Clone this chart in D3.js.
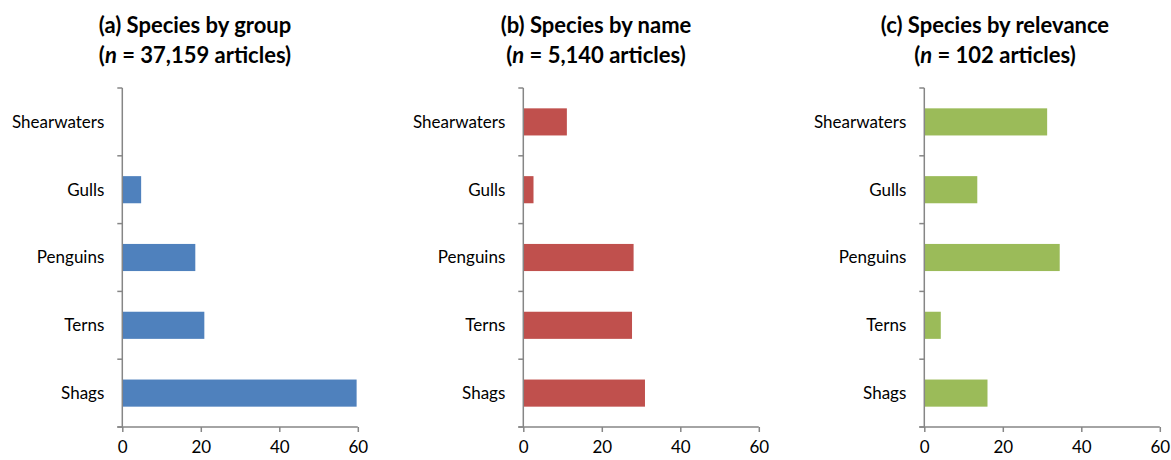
<!DOCTYPE html>
<html>
<head>
<meta charset="utf-8">
<script src="https://cdn.jsdelivr.net/npm/d3@7"></script>
<style>
  body { margin: 0; background: #fff; }
  text { font-family: Lato, "Open Sans", sans-serif; fill: #000; }
</style>
</head>
<body>
<svg id="chart" width="1171" height="460"></svg>
<script>
// categories top to bottom
var categories = ["Shearwaters", "Gulls", "Penguins", "Terns", "Shags"];

// percent of articles per panel
var groupValues = [0, 4.8, 18.6, 20.9, 59.7];
var nameValues = [11.1, 2.6, 28.1, 27.7, 31.0];
var relevanceValues = [31.3, 13.5, 34.5, 4.2, 16.1];

var xTicks = [0, 20, 40, 60];
var titles = ["(a) Species by group", "(b) Species by name", "(c) Species by relevance"];
var articleCounts = ["37,159", "5,140", "102"];

var colors = ["#4F81BD", "#C0504D", "#9BBB59"];
var axisColor = "#868686";

var svg = d3.select("#chart");

var panels = [
  {values: groupValues, left: 122.3, titleX: 195},
  {values: nameValues, left: 523.3, titleX: 596},
  {values: relevanceValues, left: 924.3, titleX: 995}
];

var plotTop = 88, plotBottom = 427, plotWidth = 235.5;

var y = d3.scaleBand()
          .domain(categories)
          .range([plotTop, plotBottom])
          .paddingInner(0.6)
          .paddingOuter(0.3);

var yEdges = d3.scaleLinear().domain([0, categories.length]).range([plotTop, plotBottom]);

panels.forEach(function(p, i) {
  var g = svg.append("g");
  var x = d3.scaleLinear().domain([0, 60]).range([p.left, p.left + plotWidth]);

  // title
  var title = g.append("text")
               .attr("x", p.titleX)
               .attr("text-anchor", "middle")
               .style("font-weight", "bold")
               .style("font-size", "22px");
  title.append("tspan").attr("x", p.titleX).attr("y", 33).text(titles[i]);
  var l2 = title.append("tspan").attr("x", p.titleX).attr("y", 63);
  l2.append("tspan").text("(");
  l2.append("tspan").style("font-style", "italic").text("n");
  l2.append("tspan").text(" = " + articleCounts[i] + " articles)");

  // bars
  g.selectAll("rect.bar")
   .data(categories)
   .enter()
   .append("rect")
   .attr("class", "bar")
   .attr("x", x(0))
   .attr("y", function(d) { return y(d); })
   .attr("width", function(d, j) { return x(p.values[j]) - x(0); })
   .attr("height", y.bandwidth())
   .attr("fill", colors[i]);

  // y axis line + ticks at band edges
  g.append("line")
   .attr("x1", x(0)).attr("x2", x(0))
   .attr("y1", plotTop).attr("y2", plotBottom)
   .attr("stroke", axisColor).attr("stroke-width", 1.5);
  g.selectAll("line.ytick")
   .data(d3.range(categories.length + 1))
   .enter()
   .append("line")
   .attr("class", "ytick")
   .attr("x1", x(0) - 5).attr("x2", x(0))
   .attr("y1", function(d) { return yEdges(d); })
   .attr("y2", function(d) { return yEdges(d); })
   .attr("stroke", axisColor).attr("stroke-width", 1.5);

  // category labels
  g.selectAll("text.cat")
   .data(categories)
   .enter()
   .append("text")
   .attr("class", "cat")
   .attr("x", x(0) - 18)
   .attr("y", function(d) { return y(d) + y.bandwidth() / 2; })
   .attr("dy", "0.35em")
   .attr("text-anchor", "end")
   .style("font-size", "17px")
   .text(function(d) { return d; });

  // x axis
  var xAxis = d3.axisBottom(x).tickValues(xTicks).tickSize(5).tickSizeOuter(0);
  var ax = g.append("g")
            .attr("transform", "translate(0," + plotBottom + ")")
            .call(xAxis);
  ax.select(".domain").attr("stroke", axisColor).attr("stroke-width", 1.5)
    .attr("d", "M" + (x(0) - 5) + ",0H" + x(60));
  ax.selectAll(".tick line").attr("stroke", axisColor).attr("stroke-width", 1.5);
  ax.selectAll(".tick text")
    .attr("y", 14)
    .style("font-size", "17px")
    .style("font-family", "Lato, 'Open Sans', sans-serif")
    .attr("fill", "#000");
});
</script>
</body>
</html>
